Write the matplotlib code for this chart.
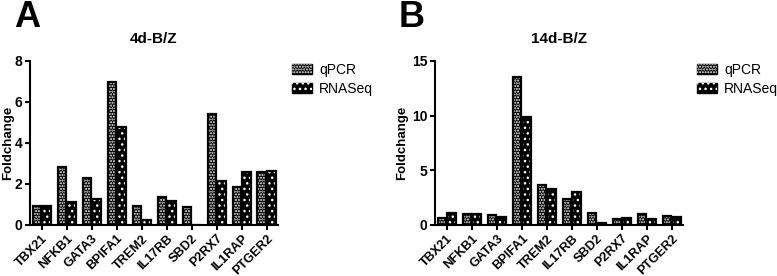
import numpy as np
import matplotlib.pyplot as plt
from matplotlib.patches import Patch

plt.rcParams['font.family'] = ['Liberation Sans', 'DejaVu Sans']
plt.rcParams['hatch.linewidth'] = 1.0

genes = ['TBX21', 'NFKB1', 'GATA3', 'BPIFA1', 'TREM2', 'IL17RB',
         'SBD2', 'P2RX7', 'IL1RAP', 'PTGER2']

# 4d-B/Z
qpcr_4d = [0.94, 2.85, 2.29, 6.97, 0.94, 1.37, 0.86, 5.4, 1.86, 2.6]
rnaseq_4d = [0.91, 1.1, 1.25, 4.78, 0.26, 1.17, 0.0, 2.12, 2.6, 2.65]

# 14d-B/Z
qpcr_14d = [0.6, 0.97, 0.9, 13.5, 3.66, 2.38, 1.07, 0.5, 1.0, 0.8]
rnaseq_14d = [1.07, 1.0, 0.7, 9.9, 3.26, 3.0, 0.2, 0.6, 0.5, 0.75]

HATCH_Q = '......'
HATCH_R = '...'
W = 0.35

fig = plt.figure(figsize=(7.77, 2.76), dpi=100)


def pattern_bars(ax, x, h, hatch):
    ax.bar(x, h, width=W, color='black', linewidth=0)
    ax.bar(x, h, width=W, fill=False, edgecolor='white', hatch=hatch, linewidth=0)
    ax.bar(x, h, width=W, fill=False, edgecolor='black', linewidth=1.6)


def panel(rect, q, r, ymax, step, title, letter, letter_x, ylab_x):
    ax = fig.add_axes(rect)
    x = np.arange(len(genes))
    pattern_bars(ax, x - 0.19, q, HATCH_Q)
    pattern_bars(ax, x + 0.19, r, HATCH_R)
    ax.set_xlim(-0.47, 9.45)
    ax.set_ylim(0, ymax)
    ax.set_yticks(np.arange(0, ymax + 0.1, step))
    ax.set_xticks(x)
    ax.set_xticklabels(genes, rotation=45, ha='right', rotation_mode='anchor',
                       fontsize=9.2, fontweight='bold')
    for lab in ax.get_yticklabels():
        lab.set_fontweight('bold')
        lab.set_fontsize(10)
    ax.spines['top'].set_visible(False)
    ax.spines['right'].set_visible(False)
    ax.spines['left'].set_linewidth(1.5)
    ax.spines['bottom'].set_linewidth(1.5)
    ax.tick_params(width=1.5, length=3.5, pad=2)
    ax.set_ylabel('Foldchange', fontsize=9.5, fontweight='bold')
    ax.yaxis.set_label_coords(ylab_x, 0.5)
    ax.set_title(title, fontsize=11, fontweight='bold', pad=13)

    h1 = (Patch(facecolor='black', edgecolor='black'),
          Patch(fill=False, edgecolor='white', hatch=HATCH_Q, linewidth=0))
    h2 = (Patch(facecolor='black', edgecolor='black'),
          Patch(fill=False, edgecolor='white', hatch=HATCH_R, linewidth=0))
    ax.legend([h1, h2], ['qPCR', 'RNASeq'], loc='upper left',
              bbox_to_anchor=(1.057, 0.99), frameon=False,
              prop={'size': 10}, handlelength=1.45, handleheight=0.7,
              labelspacing=0.4, handletextpad=0.5, borderpad=0, borderaxespad=0)
    fig.text(letter_x, 1.0, letter, fontsize=26, fontweight='bold', va='top')
    return ax


panel([0.0386, 0.185, 0.319, 0.594], qpcr_4d, rnaseq_4d, 8, 2, '4d-B/Z', 'A', 0.018, -0.064)
panel([0.560, 0.185, 0.319, 0.594], qpcr_14d, rnaseq_14d, 15, 5, '14d-B/Z', 'B', 0.513, -0.108)

plt.savefig('out.png', dpi=100)
